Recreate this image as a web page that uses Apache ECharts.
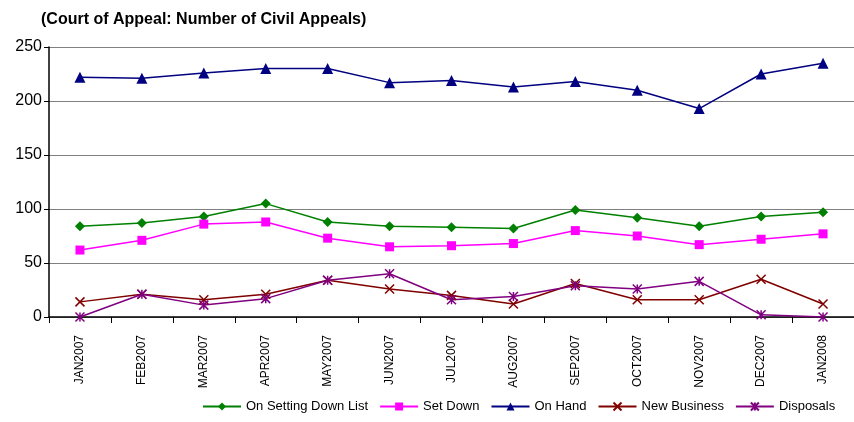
<!DOCTYPE html>
<html>
<head>
<meta charset="utf-8">
<style>html,body{margin:0;padding:0;background:#fff;}#c{width:854px;height:422px;}</style>
<script src="https://cdn.jsdelivr.net/npm/echarts@6/dist/echarts.min.js"></script>
</head>
<body>
<div id="c"></div>
<script>
const categories = ['JAN2007','FEB2007','MAR2007','APR2007','MAY2007','JUN2007','JUL2007','AUG2007','SEP2007','OCT2007','NOV2007','DEC2007','JAN2008'];
const onSettingDownList = [84, 87, 93, 105, 88, 84, 83, 82, 99, 92, 84, 93, 97];
const setDown = [62, 71, 86, 88, 73, 65, 66, 68, 80, 75, 67, 72, 77];
const onHand = [222, 221, 226, 230, 230, 217, 219, 213, 218, 210, 193, 225, 235];
const newBusiness = [14, 21, 16, 21, 34, 26, 20, 12, 31, 16, 16, 35, 12];
const disposals = [0, 21, 11, 17, 34, 40, 16, 19, 29, 26, 33, 2, 0];
const yTicks = [0, 50, 100, 150, 200, 250];

const FONT = '"Liberation Sans", Arial, sans-serif';
const xPath = 'path://M0,0L10,10M10,0L0,10';
const starPath = 'path://M0,0L10,10M10,0L0,10M5,0L5,10';

function mk(name, data, color, symbol, size, stroke) {
  return {
    name: name, type: 'line', data: data, symbol: symbol, symbolSize: size,
    lineStyle: { color: color, width: 1.5 },
    itemStyle: stroke ? { color: color, borderColor: color, borderWidth: 1.5 } : { color: color, borderWidth: 0 },
    emphasis: { disabled: true }, animation: false
  };
}

const chart = echarts.init(document.getElementById('c'), null, { renderer: 'canvas' });
chart.setOption({
  animation: false,
  backgroundColor: '#ffffff',
  title: {
    text: '(Court of Appeal: Number of Civil Appeals)',
    left: 41, top: 12, padding: 0,
    textStyle: { fontFamily: FONT, fontSize: 16, fontWeight: 'bold', color: '#000' }
  },
  grid: { left: 49, right: -4, top: 47, bottom: 105, containLabel: false },
  xAxis: {
    type: 'category', data: categories, boundaryGap: true,
    axisLine: { lineStyle: { color: '#000', width: 1.5 } },
    axisTick: { show: true, interval: 0, length: 6, lineStyle: { color: '#000' } },
    axisLabel: { rotate: 90, interval: 0, fontFamily: FONT, fontSize: 12, color: '#000', margin: 18 }
  },
  yAxis: {
    type: 'value', min: 0, max: 250, interval: 50,
    axisLine: { show: true, lineStyle: { color: '#000', width: 1.5 } },
    axisTick: { show: true, length: 5, lineStyle: { color: '#000' } },
    axisLabel: { fontFamily: FONT, fontSize: 16, color: '#000', margin: 7,
      formatter: function (v) { return yTicks.indexOf(v) >= 0 ? String(v) : ''; } },
    splitLine: { show: true, lineStyle: { color: '#808080', width: 1.2 } }
  },
  legend: {
    left: 202, top: 400, padding: 0, itemWidth: 38, itemHeight: 10, itemGap: 11,
    textStyle: { fontFamily: FONT, fontSize: 13, color: '#000' },
    data: ['On Setting Down List', 'Set Down', 'On Hand', 'New Business', 'Disposals']
  },
  series: [
    mk('On Setting Down List', onSettingDownList, '#008000', 'diamond', 10, false),
    mk('Set Down', setDown, '#FF00FF', 'rect', 9, false),
    mk('On Hand', onHand, '#000080', 'triangle', 11, false),
    mk('New Business', newBusiness, '#800000', xPath, 9, true),
    mk('Disposals', disposals, '#800080', starPath, 9, true)
  ]
});
</script>
</body>
</html>
